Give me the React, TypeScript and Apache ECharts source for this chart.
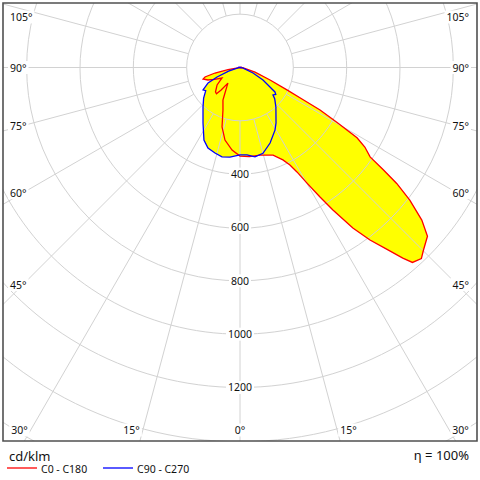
import React, { useEffect, useRef } from "react";
import * as echarts from "echarts";

// Luminous intensity (cd/klm) per gamma angle, for each C-plane
const gammaC0 = [0, 6, 12.9, 20.7, 24.9, 27.1, 28.6, 30.1, 31.7, 33.1, 35.1, 37, 39, 40.5, 41.5, 43.5, 45, 48, 50, 52, 53.5, 54.5, 55.5, 57.5, 59, 60.5, 62, 63, 64.5, 67.5, 73, 85, 90, 180];
const valuesC0 = [332, 336, 337, 351, 382, 411, 446, 501, 571, 638, 736, 810, 879, 940, 976, 988, 972, 946, 890, 808, 731, 660, 592, 555, 512, 417, 340, 266, 195, 122, 59, 10, 0, 0];

const gammaC180 = [0, 5.5, 11.7, 16.8, 21.8, 27.6, 30.5, 35, 37.7, 40, 42, 45, 52.7, 59.7, 65, 68.7, 72.7, 74.8, 77.6, 80, 90, 180];
const valuesC180 = [332, 311, 278, 233, 172, 138, 111, 85, 74, 110, 132, 130, 108, 78, 105, 129, 145, 136, 96, 46, 0, 0];

const gammaC90 = [0, 4.6, 9.5, 15, 21.7, 29.2, 33, 42.3, 48, 50.2, 53, 55, 57, 61.5, 67, 80, 90, 180];
const valuesC90 = [328, 329, 340, 333, 305, 269, 248, 200, 175, 161, 168, 160, 134, 98, 53, 10, 0, 0];

const gammaC270 = [0, 6.4, 11.4, 16.3, 21.7, 26.4, 33.7, 43.1, 50, 53.9, 56, 58.7, 64.2, 67.6, 72, 85, 90, 180];
const valuesC270 = [328, 338, 342, 334, 325, 304, 250, 203, 178, 162, 155, 162, 133, 93, 45, 5, 0, 0];

const seriesNames = ["C0 - C180", "C90 - C270"];
const seriesColors = ["#ff0000", "#0000ff"];
const sideAngleLabels = [105, 90, 75, 60, 45];
const bottomAngleLabels = [30, 15, 0];
const labelledRings = [400, 600, 800, 1000, 1200];
const unitLabel = "cd/klm";
const efficiencyLabel = "η = 100%";

const FONT = "'Noto Sans', 'DejaVu Sans', sans-serif";

function buildLoop(gR: number[], vR: number[], gL: number[], vL: number[]) {
  const pts: number[][] = [];
  for (let i = gL.length - 1; i >= 0; i--) pts.push([vL[i], 360 - gL[i]]);
  for (let i = 1; i < gR.length; i++) pts.push([vR[i], gR[i]]);
  return pts;
}

const loopC0 = buildLoop(gammaC0, valuesC0, gammaC180, valuesC180);
const loopC90 = buildLoop(gammaC90, valuesC90, gammaC270, valuesC270);

export default function App() {
  const ref = useRef<HTMLDivElement>(null);
  useEffect(() => {
    if (!ref.current) return;
    const chart = echarts.init(ref.current, undefined, { renderer: "svg" });
    const cx = 240;
    const cy = 67.5;
    const toRad = Math.PI / 180;
    const labelFont = `10.5px ${FONT}`;

    const texts: any[] = [];
    const mkText = (t: string, x: number, y: number, align: string) => ({
      type: "text",
      x,
      y,
      z: 102,
      style: { text: t, fill: "#111", font: labelFont, align, verticalAlign: "middle", backgroundColor: "#fff", padding: [1, 2] },
    });
    sideAngleLabels.forEach((g) => {
      const y = Math.max(17, cy + 217 / Math.tan(g * toRad));
      texts.push(mkText(g + "°", 8, y, "left"));
      texts.push(mkText(g + "°", 471, y, "right"));
    });
    bottomAngleLabels.forEach((g) => {
      const dx = (430 - cy) * Math.tan(g * toRad);
      if (g === 0) {
        texts.push(mkText(g + "°", cx, 430, "center"));
      } else {
        texts.push(mkText(g + "°", cx - dx - 1, 430, "right"));
        texts.push(mkText(g + "°", cx + dx + 1, 430, "left"));
      }
    });

    // legend (graphic)
    const legendItems: any[] = [];
    const legendX = [7, 103];
    seriesNames.forEach((n, i) => {
      legendItems.push({
        type: "line",
        z: 102,
        shape: { x1: legendX[i], y1: 468, x2: legendX[i] + 30, y2: 468 },
        style: { stroke: seriesColors[i], lineWidth: 1.3 },
      });
      legendItems.push({
        type: "text",
        x: legendX[i] + 34,
        y: 469,
        z: 102,
        style: { text: n, fill: "#111", font: `10.5px ${FONT}`, align: "left", verticalAlign: "middle" },
      });
    });

    const loops = [loopC0, loopC90];

    const outline = (idx: number) => ({
      name: seriesNames[idx],
      type: "custom",
      coordinateSystem: "polar",
      z: 5 + idx,
      silent: true,
      itemStyle: { color: seriesColors[idx] },
      data: [[0, 0]],
      renderItem: (_params: any, api: any) => {
        const points = loops[idx].map((p) => api.coord(p));
        return {
          type: "polyline",
          shape: { points },
          style: { fill: "none", stroke: seriesColors[idx], lineWidth: 1.3 },
        };
      },
    });

    chart.setOption({
      animation: false,
      backgroundColor: "#fff",
      polar: { center: [cx, cy], radius: [53.333, 480] },
      angleAxis: {
        type: "value",
        min: 0,
        max: 360,
        interval: 15,
        startAngle: -90,
        clockwise: false,
        z: 3,
        axisLine: { show: false },
        axisTick: { show: false },
        axisLabel: { show: false },
        splitLine: { show: true, lineStyle: { color: "#d2d2d2", width: 1 } },
      },
      radiusAxis: {
        type: "value",
        min: 200,
        max: 1800,
        interval: 200,
        z: 4,
        axisLine: { show: false },
        axisTick: { show: false },
        splitLine: { show: true, lineStyle: { color: "#d2d2d2", width: 1 } },
        axisLabel: {
          show: true,
          margin: 0,
          align: "center",
          verticalAlign: "middle",
          formatter: (v: number) => (labelledRings.indexOf(v) >= 0 ? `{b|${v}}` : ""),
          rich: {
            b: { backgroundColor: "#fff", padding: [1, 2], fontSize: 10.5, fontFamily: FONT, color: "#111" },
          },
        },
      },
      series: [
        {
          type: "custom",
          coordinateSystem: "polar",
          z: 1,
          silent: true,
          data: [[0, 0], [1, 0]],
          renderItem: (params: any, api: any) => {
            const loop = loops[params.dataIndex];
            const points = loop.map((p) => api.coord(p));
            return { type: "polygon", shape: { points }, style: { fill: "#ffff00", stroke: "none" } };
          },
        },
        outline(0),
        outline(1),
      ],
      graphic: {
        elements: [
          { type: "rect", z: 100, shape: { x: 0, y: 0, width: 480, height: 3 }, style: { fill: "#fff" } },
          { type: "rect", z: 100, shape: { x: 0, y: 0, width: 3, height: 480 }, style: { fill: "#fff" } },
          { type: "rect", z: 100, shape: { x: 477, y: 0, width: 3, height: 480 }, style: { fill: "#fff" } },
          { type: "rect", z: 100, shape: { x: 0, y: 441, width: 480, height: 39 }, style: { fill: "#fff" } },
          { type: "rect", z: 101, shape: { x: 3, y: 3, width: 474, height: 438 }, style: { fill: "none", stroke: "#505050", lineWidth: 1.6 } },
          ...texts,
          ...legendItems,
          { type: "text", x: 9, y: 456, z: 102, style: { text: unitLabel, fill: "#111", font: `13px ${FONT}`, align: "left", verticalAlign: "middle" } },
          { type: "text", x: 469, y: 455, z: 102, style: { text: efficiencyLabel, fill: "#111", font: `13px ${FONT}`, align: "right", verticalAlign: "middle" } },
        ],
      },
    });
    return () => chart.dispose();
  }, []);
  return <div ref={ref} style={{ position: "fixed", left: 0, top: 0, width: 480, height: 480 }} />;
}
